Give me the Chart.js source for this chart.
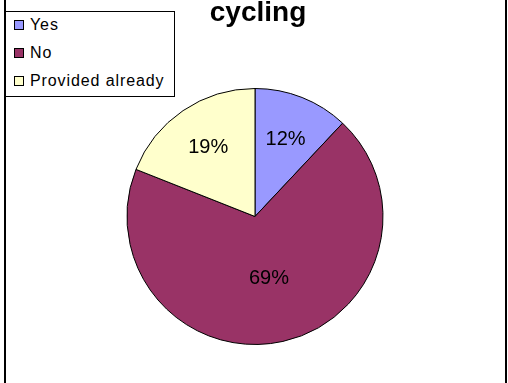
<!DOCTYPE html>
<html>
<head>
<meta charset="utf-8">
<script src="https://cdn.jsdelivr.net/npm/chart.js@4/dist/chart.umd.min.js"></script>
<style>
  html, body { margin:0; padding:0; background:#fff; }
  #wrap { position:relative; width:508px; height:383px; overflow:hidden; background:#fff; }
  #c { position:absolute; left:0; top:0; }
  .vline { position:absolute; top:0; width:2px; height:383px; background:#000; }
  #title { position:absolute; left:0; width:516px; top:-4px; text-align:center;
           font-family:"Liberation Sans", Arial, sans-serif; font-weight:bold; font-size:28px; color:#000; }
  #legend { position:absolute; left:5px; top:11px; width:168px; height:84px; border:1px solid #000; background:#fff;
            font-family:"Liberation Sans", Arial, sans-serif; font-size:16px; letter-spacing:0.9px; color:#000; }
  .item { position:absolute; left:8px; height:20px; line-height:20px; white-space:nowrap; }
  .sw { display:inline-block; width:8px; height:8px; border:1px solid #000; vertical-align:middle; margin-right:6px; position:relative; top:-1px; }
</style>
</head>
<body>
<div id="wrap">
  <canvas id="c" width="508" height="383"></canvas>
  <div class="vline" style="left:4px"></div>
  <div class="vline" style="left:505px"></div>
  <div id="title"></div>
  <div id="legend"></div>
</div>
<script>
const titleText = "cycling";
const categories = ["Yes", "No", "Provided already"];
const values = [12, 69, 19];
const colors = ["#9999FF", "#993366", "#FFFFCC"];

document.getElementById('title').textContent = titleText;
const legend = document.getElementById('legend');
categories.forEach((cat, i) => {
  const d = document.createElement('div');
  d.className = 'item';
  d.style.top = (3 + i * 28) + 'px';
  const sw = document.createElement('span');
  sw.className = 'sw';
  sw.style.background = colors[i];
  d.appendChild(sw);
  d.appendChild(document.createTextNode(cat));
  legend.appendChild(d);
});

const labelPlugin = {
  id: 'pctLabels',
  afterDatasetsDraw(chart) {
    const ctx = chart.ctx;
    const meta = chart.getDatasetMeta(0);
    const total = values.reduce((a, b) => a + b, 0);
    ctx.save();
    ctx.font = '20px "Liberation Sans", Arial, sans-serif';
    ctx.fillStyle = '#000';
    ctx.textAlign = 'center';
    ctx.textBaseline = 'middle';
    meta.data.forEach((arc, i) => {
      const p = arc.getProps(['x', 'y', 'startAngle', 'endAngle', 'outerRadius'], true);
      const mid = (p.startAngle + p.endAngle) / 2;
      const frac = values[i] / total > 0.5 ? 0.5 : 0.65;
      const r = p.outerRadius * frac;
      const x = p.x + Math.cos(mid) * r;
      const y = p.y + Math.sin(mid) * r;
      ctx.fillText(Math.round(values[i] / total * 100) + '%', x, y);
    });
    ctx.restore();
  }
};

new Chart(document.getElementById('c'), {
  type: 'pie',
  data: {
    labels: categories,
    datasets: [{
      data: values,
      backgroundColor: colors,
      borderColor: '#000',
      borderWidth: 1
    }]
  },
  options: {
    responsive: false,
    animation: false,
    radius: 128,
    layout: { padding: { left: 127, right: 125, top: 88, bottom: 38 } },
    plugins: { legend: { display: false }, title: { display: false }, tooltip: { enabled: false } }
  },
  plugins: [labelPlugin]
});
</script>
</body>
</html>
